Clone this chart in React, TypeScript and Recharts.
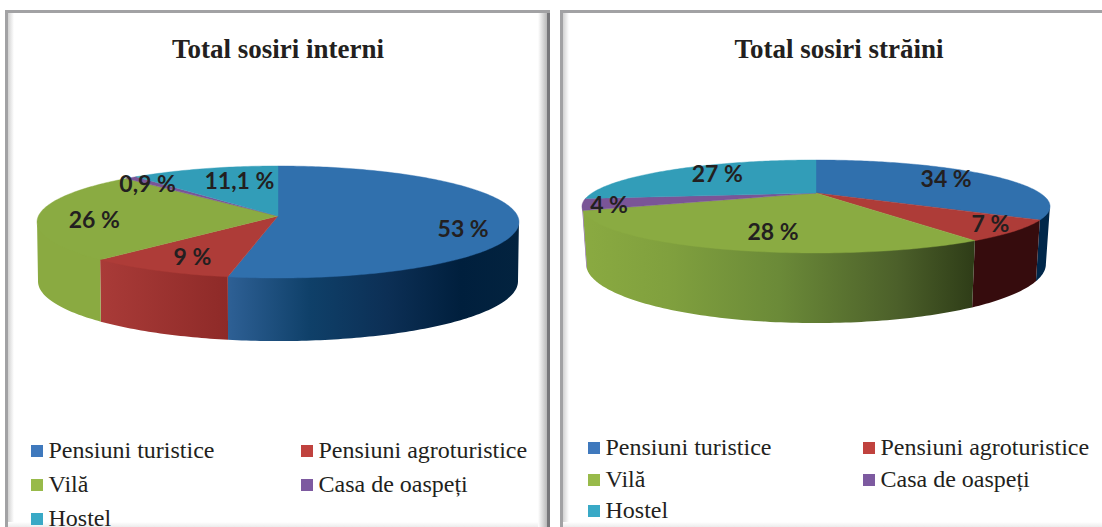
import { PieChart, Pie, Cell, Legend } from 'recharts';

const CATEGORIES = ['Pensiuni turistice', 'Pensiuni agroturistice', 'Vilă', 'Casa de oaspeți', 'Hostel'];
const INTERNI_VALUES = [53, 9, 26, 0.9, 11.1];
const STRAINI_VALUES = [34, 7, 28, 4, 27];

const COLORS = ['#3070ad', '#ae3c38', '#8aab42', '#7a5597', '#329db8'];
const LEGEND_COLORS = ['#3f79bd', '#c0423e', '#98ba4a', '#7d5aa0', '#39a9c6'];

type Stops = [number, string][];

// side wall shading per slice, each wall is lit from the left
const INTERNI_WALLS: Stops[] = [
  [[0, '#2e6095'], [0.28, '#0f4069'], [0.55, '#0c2f55'], [0.8, '#001f3d'], [1, '#03233f']],
  [[0, '#a93b38'], [1, '#8e2a28']],
  [[0, '#8aaa41'], [1, '#8aaa41']],
  [[0, '#7a5597'], [1, '#7a5597']],
  [[0, '#2a8098'], [1, '#2a8098']],
];
const STRAINI_WALLS: Stops[] = [
  [[0, '#00274a'], [1, '#00274a']],
  [[0, '#360c0d'], [1, '#360c0d']],
  [[0, '#8aaa41'], [0.22, '#80a03e'], [0.5, '#6b8a38'], [0.8, '#4c602a'], [1, '#2e3c17']],
  [[0, '#7a5597'], [1, '#7a5597']],
  [[0, '#2a8098'], [1, '#2a8098']],
];

type Projection = { ry: number; tilt: number; depth: number; wallRy: number; wallShrink: number };

const INTERNI_VIEW: Projection = { ry: 55.4, tilt: 0.107, depth: 59, wallRy: 59, wallShrink: 1 };
const STRAINI_VIEW: Projection = { ry: 42.6, tilt: 0.29, depth: 54, wallRy: 54, wallShrink: 4 };

const INTERNI_LABEL_NUDGE = [[17, 8], [-4, 3], [-16, 3], [-25, -6], [15, -2]];
const STRAINI_LABEL_NUDGE = [[5, -2], [45, 5], [17, 3], [-47, 3], [5, -3]];

// perspective view of the unit disc, the centre of the disc stays at (cx, cy)
function project(cx: number, cy: number, rx: number, view: Projection, deg: number, r = 1) {
  const rad = (deg * Math.PI) / 180;
  const u = r * Math.sin(rad);
  const v = -r * Math.cos(rad);
  const den = 1 - view.tilt * v;
  return { x: cx + (rx * u) / den, y: cy + (view.ry * v) / den };
}

function projectWall(cx: number, cy: number, rx: number, view: Projection, deg: number) {
  const rad = (deg * Math.PI) / 180;
  const u = Math.sin(rad);
  const v = -Math.cos(rad);
  const den = 1 - view.tilt * v;
  return {
    x: cx + ((rx - view.wallShrink) * u) / den,
    y: cy + view.depth + (view.wallRy * v) / den,
  };
}

function arcDegrees(from: number, to: number) {
  const steps = Math.max(2, Math.ceil(Math.abs(to - from)));
  return Array.from({ length: steps + 1 }, (_, i) => from + ((to - from) * i) / steps);
}

function topSlice(view: Projection) {
  return (props: any) => {
    const { cx, cy, outerRadius, startAngle, endAngle, fill } = props;
    // recharts angles run counter clockwise from 3 o'clock
    const pts = arcDegrees(90 - startAngle, 90 - endAngle).map((d) => project(cx, cy, outerRadius, view, d));
    const path = `M${cx},${cy} ` + pts.map((p) => `L${p.x},${p.y}`).join(' ') + ' Z';
    return <path d={path} fill={fill} stroke={fill} strokeWidth={0.4} />;
  };
}

function wallSlice(view: Projection, walls: Stops[], prefix: string) {
  return (props: any) => {
    const { cx, cy, outerRadius, startAngle, endAngle, index } = props;
    // only the part of the rim that faces the viewer gets a wall
    const edge = (Math.acos(-view.tilt) * 180) / Math.PI;
    const from = Math.max(90 - startAngle, edge);
    const to = Math.min(90 - endAngle, 360 - edge);
    if (to <= from) return <g />;
    const degs = arcDegrees(from, to);
    // top edge tucked under the top face so no light seam shows
    const top = degs.map((d) => {
      const p = project(cx, cy, outerRadius, view, d);
      return { x: p.x, y: p.y - 1.5 };
    });
    const bottom = degs.map((d) => projectWall(cx, cy, outerRadius, view, d)).reverse();
    const path = [...top, ...bottom].map((p, i) => `${i ? 'L' : 'M'}${p.x},${p.y}`).join(' ') + ' Z';
    const id = `${prefix}-wall-${index}`;
    return (
      <g>
        <defs>
          <linearGradient id={id} x1="0" x2="1" y1="0" y2="0">
            {walls[index].map(([offset, color]) => (
              <stop key={offset} offset={offset} stopColor={color} />
            ))}
          </linearGradient>
        </defs>
        <path d={path} fill={`url(#${id})`} />
      </g>
    );
  };
}

function percentLabel(view: Projection, nudges: number[][]) {
  return (props: any) => {
    const { cx, cy, outerRadius, midAngle, index, value } = props;
    const p = project(cx, cy, outerRadius, view, 90 - midAngle, 0.7);
    return (
      <text
        x={p.x + nudges[index][0]}
        y={p.y + nudges[index][1]}
        textAnchor="middle"
        dominantBaseline="central"
        fontFamily="Lato"
        fontWeight={700}
        fontSize={23}
        fill="#231f20"
      >
        {`${String(value).replace('.', ',')} %`}
      </text>
    );
  };
}

type LegendGeom = { col1: number; col2: number; gap: number; rows: number[] };

function legendContent(geom: LegendGeom) {
  return (props: any) => {
    const items = (props.payload ?? []).filter((it: any) => it.type !== 'none');
    return (
      <div style={{ position: 'relative' }}>
        {items.map((it: any, i: number) => {
          const left = i % 2 === 0 ? geom.col1 : geom.col2;
          const rowTop = geom.rows[Math.floor(i / 2)];
          return (
            <div key={it.value}>
              <span
                style={{
                  position: 'absolute',
                  left,
                  top: rowTop,
                  width: 12,
                  height: 12,
                  background: LEGEND_COLORS[i],
                }}
              />
              <span
                style={{
                  position: 'absolute',
                  left: left + geom.gap,
                  top: rowTop - 10,
                  fontFamily: 'Liberation Serif',
                  fontSize: 24,
                  lineHeight: '30px',
                  color: '#231f20',
                  whiteSpace: 'nowrap',
                }}
              >
                {it.value}
              </span>
            </div>
          );
        })}
      </div>
    );
  };
}

type PanelProps = {
  left: number;
  title: string;
  titleX: number;
  values: number[];
  walls: Stops[];
  view: Projection;
  nudges: number[][];
  apexX: number;
  apexY: number;
  radius: number;
  legend: LegendGeom;
  prefix: string;
};

function SosiriPie({ left, title, titleX, values, walls, view, nudges, apexX, apexY, radius, legend, prefix }: PanelProps) {
  const data = CATEGORIES.map((name, i) => ({ name, value: values[i] }));
  return (
    <div style={{ position: 'absolute', left, top: 0, width: 551, height: 527 }}>
      <PieChart width={551} height={527} margin={{ top: 0, right: 0, bottom: 0, left: 0 }}>
        <text
          x={titleX}
          y={58}
          textAnchor="middle"
          fontFamily="Liberation Serif"
          fontWeight={700}
          fontSize={27}
          fill="#231f20"
        >
          {title}
        </text>
        <Pie
          data={data}
          dataKey="value"
          nameKey="name"
          cx={apexX}
          cy={apexY}
          innerRadius={0}
          outerRadius={radius}
          startAngle={90}
          endAngle={-270}
          stroke="none"
          legendType="none"
          isAnimationActive={false}
          shape={wallSlice(view, walls, prefix)}
        />
        <Pie
          data={data}
          dataKey="value"
          nameKey="name"
          cx={apexX}
          cy={apexY}
          innerRadius={0}
          outerRadius={radius}
          startAngle={90}
          endAngle={-270}
          stroke="none"
          labelLine={false}
          label={percentLabel(view, nudges)}
          isAnimationActive={false}
          shape={topSlice(view)}
        >
          {COLORS.map((c) => (
            <Cell key={c} fill={c} />
          ))}
        </Pie>
        <Legend
          itemSorter={null}
          content={legendContent(legend)}
          wrapperStyle={{ position: 'absolute', left: 0, top: 0, width: 551, height: 0 }}
        />
      </PieChart>
    </div>
  );
}

// the grey bevel round each panel
function Frame({ left, width, rightEdge }: { left: number; width: number; rightEdge: boolean }) {
  return (
    <div style={{ position: 'absolute', left, top: 10, width, height: 517, overflow: 'hidden' }}>
      <div style={{ position: 'absolute', left: 0, top: 0, right: 0, height: 3, background: '#a2a2a4' }} />
      <div style={{ position: 'absolute', left: 0, top: 0, width: 3, bottom: 0, background: '#a2a2a4' }} />
      <div
        style={{
          position: 'absolute',
          left: 3,
          top: 3,
          width: 6,
          bottom: 0,
          background: 'linear-gradient(to right, #d2d2d2, #ffffff)',
        }}
      />
      <div
        style={{
          position: 'absolute',
          left: 3,
          right: 0,
          bottom: 0,
          height: 5,
          background: 'linear-gradient(to bottom, #ffffff, #ececec)',
        }}
      />
      {rightEdge && (
        <>
          <div
            style={{
              position: 'absolute',
              right: 3,
              top: 3,
              width: 9,
              bottom: 0,
              background: 'linear-gradient(to right, #ffffff, #b8b8b8)',
            }}
          />
          <div style={{ position: 'absolute', right: 0, top: 3, width: 3, bottom: 0, background: '#77777a' }} />
        </>
      )}
    </div>
  );
}

export default function App() {
  return (
    <div style={{ position: 'absolute', left: 0, top: 0, width: 1102, height: 527, background: '#fff', overflow: 'hidden' }}>
      <Frame left={5} width={545} rightEdge />
      <Frame left={560} width={542} rightEdge={false} />
      <SosiriPie
        left={0}
        title="Total sosiri interni"
        titleX={278}
        values={INTERNI_VALUES}
        walls={INTERNI_WALLS}
        view={INTERNI_VIEW}
        nudges={INTERNI_LABEL_NUDGE}
        apexX={278}
        apexY={216}
        radius={239.6}
        legend={{ col1: 31, col2: 301, gap: 17.5, rows: [445, 479, 513] }}
        prefix="interni"
      />
      <SosiriPie
        left={551}
        title="Total sosiri străini"
        titleX={288}
        values={STRAINI_VALUES}
        walls={STRAINI_WALLS}
        view={STRAINI_VIEW}
        nudges={STRAINI_LABEL_NUDGE}
        apexX={265}
        apexY={193}
        radius={224}
        legend={{ col1: 37, col2: 312, gap: 17.5, rows: [442, 474, 505] }}
        prefix="straini"
      />
    </div>
  );
}
